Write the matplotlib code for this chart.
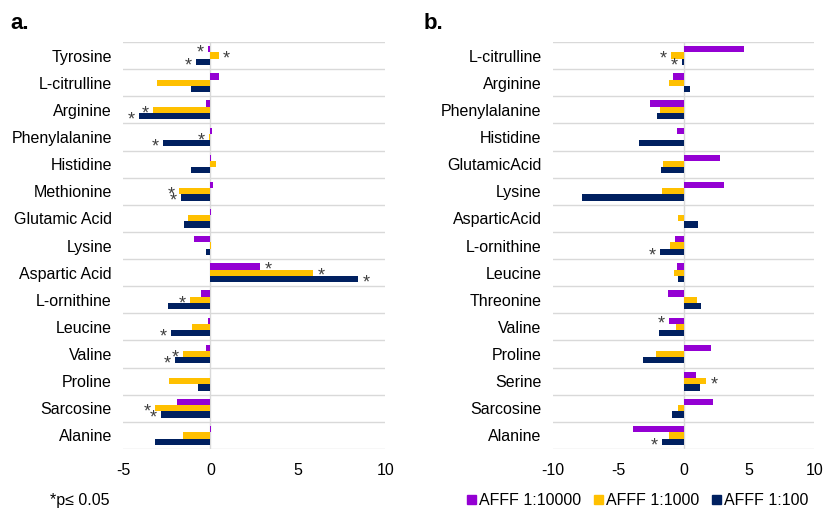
import matplotlib.pyplot as plt
import numpy as np

plt.rcParams['font.family'] = ['Liberation Sans', 'DejaVu Sans']
plt.rcParams['axes.unicode_minus'] = False

series = ['AFFF 1:10000', 'AFFF 1:1000', 'AFFF 1:100']
colors = ['#9400D3', '#FFC000', '#002060']

# panel a
amino_a = ['Tyrosine', 'L-citrulline', 'Arginine', 'Phenylalanine', 'Histidine',
           'Methionine', 'Glutamic Acid', 'Lysine', 'Aspartic Acid', 'L-ornithine',
           'Leucine', 'Valine', 'Proline', 'Sarcosine', 'Alanine']
a_10000 = [-0.15, 0.5, -0.23, 0.1, 0.03, 0.15, 0.02, -0.95, 2.84, -0.53,
           -0.15, -0.25, -0.05, -1.9, 0.02]
a_1000 = [0.48, -3.05, -3.28, -0.1, 0.34, -1.81, -1.26, 0.02, 5.88, -1.15,
          -1.03, -1.58, -2.35, -3.15, -1.58]
a_100 = [-0.8, -1.09, -4.1, -2.71, -1.1, -1.7, -1.53, -0.27, 8.45, -2.4,
         -2.23, -2.04, -0.69, -2.82, -3.19]
# significance flags (p <= 0.05)
a_sig_10000 = [1, 0, 0, 0, 0, 0, 0, 0, 1, 0, 0, 0, 0, 0, 0]
a_sig_1000 = [1, 0, 1, 1, 0, 1, 0, 0, 1, 1, 0, 1, 0, 1, 0]
a_sig_100 = [1, 0, 1, 1, 0, 1, 0, 0, 1, 0, 1, 1, 0, 1, 0]

# panel b
amino_b = ['L-citrulline', 'Arginine', 'Phenylalanine', 'Histidine', 'GlutamicAcid',
           'Lysine', 'AsparticAcid', 'L-ornithine', 'Leucine', 'Threonine',
           'Valine', 'Proline', 'Serine', 'Sarcosine', 'Alanine']
b_10000 = [4.59, -0.82, -2.6, -0.51, 2.8, 3.11, 0.02, -0.64, -0.51, -1.22,
           -1.12, 2.09, 0.92, 2.24, -3.88]
b_1000 = [-0.94, -1.1, -1.79, 0.05, -1.6, -1.66, -0.43, -1.02, -0.74, 1.02,
          -0.59, -2.09, 1.73, -0.43, -1.12]
b_100 = [-0.08, 0.46, -2.04, -3.42, -1.73, -7.76, 1.1, -1.79, -0.43, 1.3,
         -1.86, -3.09, 1.28, -0.87, -1.66]
b_sig_10000 = [0, 0, 0, 0, 0, 0, 0, 0, 0, 0, 1, 0, 0, 0, 0]
b_sig_1000 = [1, 0, 0, 0, 0, 0, 0, 0, 0, 0, 0, 0, 1, 0, 0]
b_sig_100 = [1, 0, 0, 0, 0, 0, 0, 1, 0, 0, 0, 0, 0, 0, 1]


def draw_panel(ax, names, vals, sigs, xlim, xticks):
    n = len(names)
    y = np.arange(n)
    h = 0.23
    offsets = [-h, 0, h]
    for vs, ss, c, off in zip(vals, sigs, colors, offsets):
        ax.barh(y + off, vs, height=h, color=c, zorder=3)
        for yi, v, s in zip(y, vs, ss):
            if s:
                pad = 0.03 * (xlim[1] - xlim[0])
                x = v + pad if v > 0 else v - pad
                ax.text(x, yi + off + 0.14, '*', ha='center', va='center',
                        fontsize=13, color='#404040', zorder=4)
    ax.set_ylim(n - 0.5, -0.5)
    ax.set_xlim(*xlim)
    ax.set_yticks(y)
    ax.set_yticklabels(names, fontsize=11.5)
    ax.set_xticks(xticks)
    ax.tick_params(axis='x', labelsize=11.5, length=0, pad=10)
    ax.tick_params(axis='y', length=0, pad=8)
    for b in np.arange(n + 1) - 0.5:
        ax.axhline(b, color='#d9d9d9', lw=1, zorder=1)
    ax.axvline(0, color='#d9d9d9', lw=1, zorder=2)
    for sp in ax.spines.values():
        sp.set_visible(False)


fig = plt.figure(figsize=(8.23, 5.12), dpi=100)
ax_a = fig.add_axes([0.1495, 0.123, 0.3185, 0.795])
ax_b = fig.add_axes([0.6716, 0.123, 0.3178, 0.795])

draw_panel(ax_a, amino_a, [a_10000, a_1000, a_100],
           [a_sig_10000, a_sig_1000, a_sig_100], (-5, 10), [-5, 0, 5, 10])
draw_panel(ax_b, amino_b, [b_10000, b_1000, b_100],
           [b_sig_10000, b_sig_1000, b_sig_100], (-10, 10), [-10, -5, 0, 5, 10])

fig.text(0.013, 0.955, 'a.', fontsize=16, fontweight='bold', va='center')
fig.text(0.515, 0.955, 'b.', fontsize=16, fontweight='bold', va='center')
fig.text(0.061, 0.022, '*p\u2264 0.05', fontsize=11.5, va='center')

handles = [plt.Rectangle((0, 0), 1, 1, color=c) for c in colors]
fig.legend(handles, series, loc='center', bbox_to_anchor=(0.775, 0.022),
           ncol=3, frameon=False, fontsize=11.5, handlelength=0.55,
           handleheight=0.55, handletextpad=0.2, columnspacing=0.8)

fig.savefig('out.png', dpi=100)
